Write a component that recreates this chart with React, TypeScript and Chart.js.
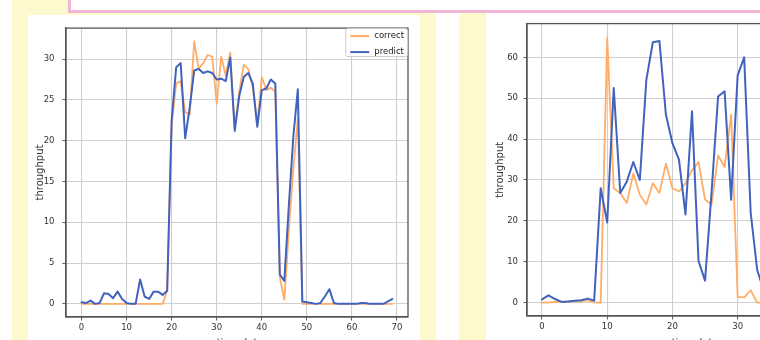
import React, { useEffect, useRef } from "react";
import { Chart, registerables } from "chart.js";

Chart.register(...registerables);

// ---------- data ----------
const seriesLabels = ["correct", "predict"];
const xTitle = "timeslot";
const yTitle = "throughput";

// left chart (timeslots 0..69)
const leftCorrect = [
  0, 0, 0, 0, 0, 0, 0, 0, 0, 0,
  0, 0, 0, 0, 0, 0, 0, 0, 0, 1.6,
  22, 27, 27.3, 23.5, 23.2, 32.2, 28.8, 29.5, 30.5, 30.3,
  24.5, 30.3, 28, 30.8, 21.5, 26, 29.3, 28.8, 26.5, 22,
  27.8, 26.2, 26.5, 26, 3.3, 0.5, 9, 16.5, 22.7, 0,
  0, 0, 0, 0, 0, 0, 0, 0, 0, 0,
  0, 0, 0, 0, 0, 0, 0, 0, 0, 0,
];
const leftPredict = [
  0.2, 0.1, 0.4, 0, 0.1, 1.3, 1.2, 0.7, 1.5, 0.6,
  0.1, 0, 0, 3.0, 0.9, 0.6, 1.5, 1.5, 1.1, 1.6,
  22.5, 29, 29.5, 20.3, 24, 28.6, 28.8, 28.3, 28.5, 28.3,
  27.5, 27.6, 27.3, 30.2, 21.2, 25.5, 27.8, 28.3, 27, 21.7,
  26.2, 26.4, 27.5, 27, 3.6, 2.8, 12, 20.5, 26.3, 0.3,
  0.2, 0.1, 0, 0.1, 0.9, 1.8, 0.1, 0, 0, 0,
  0, 0, 0.1, 0.1, 0, 0, 0, 0, 0.3, 0.6,
];
const leftXRange = [-3.45, 72.45];
const leftYRange = [-1.61, 33.8];
const leftXStep = 10;
const leftYStep = 5;

// right chart (visible timeslots 0..34; the rest is cut off by the page edge)
const rightCorrect = [
  0, 0, 0.2, 0.2, 0.3, 0.3, 0.4, 0.6, 0.1, 0,
  64.8, 28, 26.8, 24.4, 31.6, 26.4, 24, 29.2, 26.8, 34,
  28, 27.2, 29.2, 32.4, 34.4, 25.2, 24, 36, 33.2, 46,
  1.4, 1.3, 3, 0, 0,
];
const rightPredict = [
  0.8, 1.8, 0.9, 0.2, 0.3, 0.5, 0.6, 1.0, 0.5, 28,
  19.6, 52.5, 26.8, 29.6, 34.4, 30, 54.5, 63.7, 64, 46,
  39, 35, 21.6, 46.8, 10.2, 5.4, 27, 50.4, 51.7, 25.2,
  55.6, 60, 22, 8, 3,
];
const rightXRange = [-2.3, 48.3];
const rightYRange = [-3.25, 68.25];
const rightXStep = 10;
const rightYStep = 10;

// ---------- styles ----------
const FONT = "DejaVu Sans";
const ORANGE = "#ffad66";
const BLUE = "#4163be";
const GRID = "#cfcfcf";
const SPINE = "#555555";
const TEXT = "#333333";
const YELLOW = "#fdf9cc";
const PINK = "#f1b5d5";

const framePlugin = {
  id: "frameBox",
  afterDatasetsDraw(chart: any) {
    const { ctx, chartArea: a } = chart;
    ctx.save();
    ctx.strokeStyle = SPINE;
    ctx.lineWidth = 1.3;
    ctx.strokeRect(a.left, a.top, a.right - a.left, a.bottom - a.top);
    ctx.restore();
  },
};

const cornerLegend = {
  id: "cornerLegend",
  afterDraw(chart: any) {
    const { ctx, chartArea: a } = chart;
    ctx.save();
    ctx.font = `8.5px "${FONT}"`;
    const items = chart.data.datasets.map((d: any) => ({ label: d.label, color: d.borderColor }));
    const textW = Math.max(...items.map((i: any) => ctx.measureText(i.label).width));
    const w = 5 + 19 + 5 + textW + 4;
    const h = 29;
    const x0 = a.right - w;
    const y0 = a.top;
    ctx.fillStyle = "rgba(255,255,255,0.85)";
    ctx.strokeStyle = "#cccccc";
    ctx.lineWidth = 1;
    ctx.beginPath();
    (ctx as any).roundRect(x0 + 0.5, y0 + 0.5, w - 1, h - 1, 2);
    ctx.fill();
    ctx.stroke();
    items.forEach((it: any, i: number) => {
      const y = y0 + 8 + i * 16;
      ctx.strokeStyle = it.color;
      ctx.lineWidth = 2;
      ctx.beginPath();
      ctx.moveTo(x0 + 5, y);
      ctx.lineTo(x0 + 24, y);
      ctx.stroke();
      ctx.fillStyle = "#222";
      ctx.textBaseline = "middle";
      ctx.textAlign = "left";
      ctx.fillText(it.label, x0 + 29, y);
    });
    ctx.restore();
  },
};

type Spec = {
  correct: number[];
  predict: number[];
  xRange: number[];
  yRange: number[];
  xStep: number;
  yStep: number;
  yAxisWidth: number;
  xAxisHeight: number;
  padding: { left: number; right: number; top: number; bottom: number };
  yTickPad: number;
  yTitlePad: number;
};

function buildConfig(s: Spec): any {
  const toPts = (arr: number[]) => arr.map((v, i) => ({ x: i, y: v }));
  const tickFont = { family: FONT, size: 8.5 };
  const titleFont = { family: FONT, size: 10 };
  return {
    type: "line",
    data: {
      datasets: [
        {
          label: seriesLabels[0],
          data: toPts(s.correct),
          borderColor: ORANGE,
          borderWidth: 1.8,
          pointRadius: 0,
          tension: 0,
          borderJoinStyle: "round",
          borderCapStyle: "round",
          order: 1,
        },
        {
          label: seriesLabels[1],
          data: toPts(s.predict),
          borderColor: BLUE,
          borderWidth: 2,
          pointRadius: 0,
          tension: 0,
          borderJoinStyle: "round",
          borderCapStyle: "round",
          order: 0,
        },
      ],
    },
    options: {
      animation: false,
      responsive: false,
      devicePixelRatio: 1,
      layout: { padding: s.padding },
      plugins: { legend: { display: false }, tooltip: { enabled: false } },
      scales: {
        x: {
          type: "linear",
          min: s.xRange[0],
          max: s.xRange[1],
          afterFit: (sc: any) => {
            sc.height = s.xAxisHeight;
          },
          grid: { color: GRID, lineWidth: 1.1, drawTicks: true, tickLength: 3.5, tickColor: SPINE, tickWidth: 1 },
          border: { display: true, color: SPINE, width: 1.3 },
          ticks: {
            stepSize: s.xStep,
            includeBounds: false,
            autoSkip: false,
            maxRotation: 0,
            padding: 2,
            font: tickFont,
            color: TEXT,
          },
          title: { display: true, text: xTitle, font: titleFont, color: TEXT, padding: { top: 0, bottom: 11 } },
        },
        y: {
          type: "linear",
          min: s.yRange[0],
          max: s.yRange[1],
          afterFit: (sc: any) => {
            sc.width = s.yAxisWidth;
          },
          grid: { color: GRID, lineWidth: 1.1, drawTicks: true, tickLength: 3.5, tickColor: SPINE, tickWidth: 1 },
          border: { display: true, color: SPINE, width: 1.3 },
          ticks: {
            stepSize: s.yStep,
            includeBounds: false,
            autoSkip: false,
            padding: s.yTickPad,
            font: tickFont,
            color: TEXT,
          },
          title: { display: true, text: yTitle, font: titleFont, color: TEXT, padding: { top: s.yTitlePad, bottom: 0 } },
        },
      },
    },
    plugins: [framePlugin, cornerLegend],
  };
}

export default function App() {
  const leftRef = useRef<HTMLCanvasElement>(null);
  const rightRef = useRef<HTMLCanvasElement>(null);

  useEffect(() => {
    const left = new Chart(
      leftRef.current as HTMLCanvasElement,
      buildConfig({
        correct: leftCorrect,
        predict: leftPredict,
        xRange: leftXRange,
        yRange: leftYRange,
        xStep: leftXStep,
        yStep: leftYStep,
        yAxisWidth: 38,
        xAxisHeight: 43,
        padding: { left: 0, right: 12, top: 13, bottom: 0 },
        yTickPad: 8,
        yTitlePad: 6,
      })
    );
    const right = new Chart(
      rightRef.current as HTMLCanvasElement,
      buildConfig({
        correct: rightCorrect,
        predict: rightPredict,
        xRange: rightXRange,
        yRange: rightYRange,
        xStep: rightXStep,
        yStep: rightYStep,
        yAxisWidth: 41,
        xAxisHeight: 44,
        padding: { left: 0, right: 19, top: 4, bottom: 0 },
        yTickPad: 5.5,
        yTitlePad: 8,
      })
    );
    return () => {
      left.destroy();
      right.destroy();
    };
  }, []);

  const abs = (l: number, t: number, w: number, h: number, extra: any = {}) => ({
    position: "absolute" as const,
    left: l,
    top: t,
    width: w,
    height: h,
    ...extra,
  });

  return (
    <div style={{ position: "fixed", left: 0, top: 0, width: 760, height: 340, overflow: "hidden", background: "#fff" }}>
      <div style={abs(12, 0, 424, 340, { background: YELLOW })} />
      <div style={abs(28, 15, 392, 325, { background: "#fff" })} />
      <div style={abs(459, 0, 27, 340, { background: YELLOW })} />
      <div style={abs(486, 14, 274, 326, { background: "#fff" })} />
      <div
        style={abs(68, -10, 720, 20, {
          background: "#fff",
          borderLeft: `3px solid ${PINK}`,
          borderBottom: `3px solid ${PINK}`,
        })}
      />
      <canvas ref={leftRef} width={392} height={345} style={abs(28, 15, 392, 345, { display: "block" })} />
      <canvas ref={rightRef} width={390} height={347} style={abs(486, 13, 390, 347, { display: "block" })} />
    </div>
  );
}
